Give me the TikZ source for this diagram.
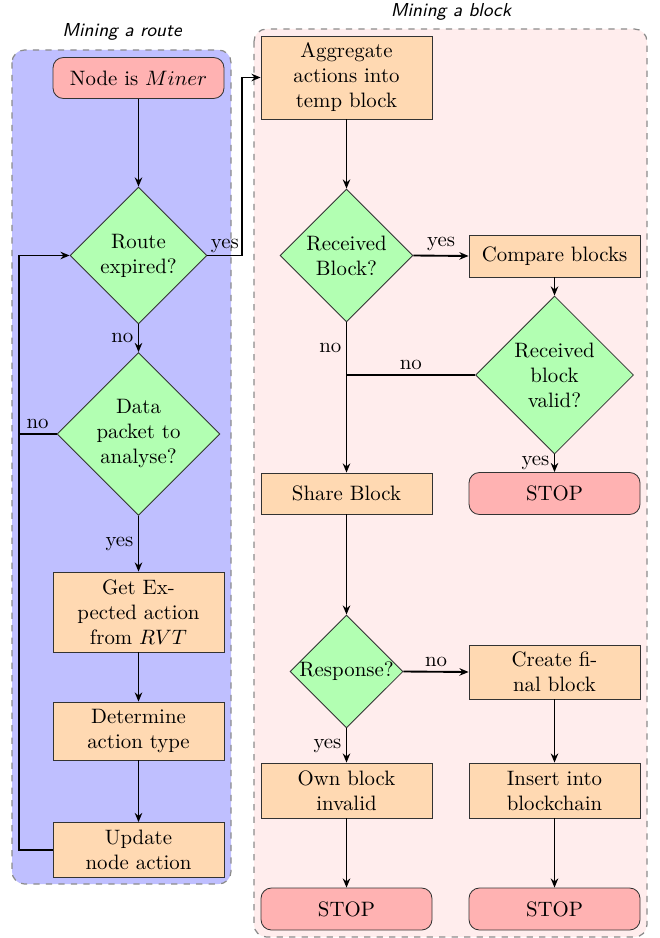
\documentclass[tikz,border=0pt]{standalone}
\usetikzlibrary{shapes.geometric,arrows.meta,calc}
\def\myu{0.48pt}
\begin{document}
\begin{tikzpicture}[x=0.48pt,y=-0.48pt,
  arr/.style={line width=0.9pt,-{Stealth[length=4.4pt,width=3.6pt]}},
  ln/.style={line width=0.9pt},
  procbox/.style={rectangle,draw=black!80,fill=orange!30,minimum width=171*\myu,align=center,inner sep=2pt},
  termbox/.style={rectangle,rounded corners=5pt,draw=black!80,fill=red!30,minimum width=171*\myu,minimum height=42*\myu,align=center},
  decbox/.style={diamond,draw=black!80,fill=green!30,align=center,inner sep=0pt,aspect=1},
  lbl/.style={inner sep=2pt},
  bgbox/.style={draw=black!45,dashed,rounded corners=6pt,semithick}
]
\useasboundingbox (0,0) rectangle (660,938);
% backgrounds
\draw[bgbox,fill=blue!25] (12,50) rectangle (231,884);
\draw[bgbox,fill=red!7] (254,29) rectangle (647,937);
\node[font=\small\sffamily\itshape] (t1) at (122,32) {Mining a route};
\node[font=\small\sffamily\itshape] (t2) at (451,12) {Mining a block};
% left column
\node[termbox,minimum height=41*\myu] (miner) at (138.5,78) {Node is $Miner$};
\node[decbox,minimum width=137*\myu,minimum height=137*\myu] (route) at (138.5,255.5) {Route\\expired?};
\node[decbox,minimum width=163*\myu,minimum height=163*\myu] (data) at (138.5,434) {Data\\packet to\\analyse?};
\node[procbox,minimum height=80*\myu] (get) at (138.5,612) {Get Ex-\\pected action\\from $RVT$};
\node[procbox,minimum height=58*\myu] (det) at (138.5,731) {Determine\\action type};
\node[procbox,minimum height=55*\myu] (upd) at (138.5,850) {Update\\node action};
% right column
\node[procbox,minimum height=83*\myu] (agg) at (346.5,77.5) {Aggregate\\actions into\\temp block};
\node[decbox,minimum width=133*\myu,minimum height=133*\myu] (recv) at (346.5,255.5) {Received\\Block?};
\node[procbox,minimum height=42*\myu] (comp) at (554.5,256) {Compare blocks};
\node[decbox,minimum width=158*\myu,minimum height=158*\myu] (valid) at (554.5,375) {Received\\block\\valid?};
\node[procbox,minimum height=41*\myu] (share) at (346.5,493.5) {Share Block};
\node[termbox] (stopa) at (554.5,493.5) {STOP};
\node[decbox,minimum width=113*\myu,minimum height=111*\myu] (resp) at (346.5,671.5) {Response?};
\node[procbox,minimum height=54*\myu] (create) at (554.5,672) {Create fi-\\nal block};
\node[procbox,minimum height=55*\myu] (own) at (346.5,790.5) {Own block\\invalid};
\node[procbox,minimum height=55*\myu] (ins) at (554.5,790.5) {Insert into\\blockchain};
\node[termbox] (stopb) at (346.5,909) {STOP};
\node[termbox] (stopc) at (554.5,909) {STOP};
% connectors left
\draw[arr] (miner) -- (route);
\draw[arr] (route.east) -- node[above,lbl,yshift=-1pt] {yes} ++(35,0) |- (agg.west);
\draw[arr] (route.south) -- node[left,lbl] {no} (data.north);
\draw[arr] (data.south) -- node[left,lbl] {yes} (get.north);
\draw[arr] (get) -- (det);
\draw[arr] (det) -- (upd);
\draw[arr] (upd.west) -- ++(-34,0) |- (route.west);
\draw[ln] (data.west) -- node[above,lbl] {no} ++(-38,0);
% connectors right
\draw[arr] (agg) -- (recv);
\draw[arr] (recv.east) -- node[above,lbl] {yes} (comp.west);
\draw[arr] (recv.south) -- node[left,lbl,pos=0.17] {no} (share.north);
\draw[arr] (comp) -- (valid);
\draw[ln] (valid.west) -- node[above,lbl] {no} (valid.west -| recv.south);
\draw[arr] (valid.south) -- node[left,lbl] {yes} (stopa.north);
\draw[arr] (share) -- (resp);
\draw[arr] (resp.east) -- node[above,lbl] {no} (create.west);
\draw[arr] (resp.south) -- node[left,lbl] {yes} (own.north);
\draw[arr] (create) -- (ins);
\draw[arr] (own) -- (stopb);
\draw[arr] (ins) -- (stopc);
\end{tikzpicture}
\end{document}
